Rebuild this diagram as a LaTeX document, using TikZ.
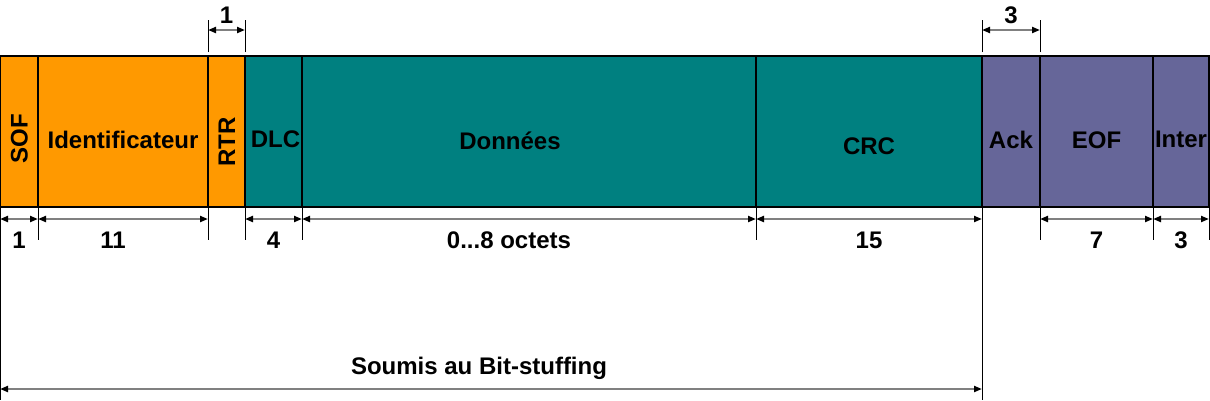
\documentclass[tikz,border=0pt]{standalone}
\usepackage{fontspec}
\setmainfont{Liberation Sans}
\usetikzlibrary{positioning,arrows.meta}
\definecolor{canorange}{HTML}{FF9900}
\definecolor{canteal}{HTML}{008080}
\definecolor{canpurple}{HTML}{666699}
\begin{document}
\begin{tikzpicture}[x=1pt,y=-1pt,font=\bfseries\fontsize{24}{28}\selectfont]
      \tikzstyle{field}=[draw,line width=1.2pt,inner sep=0,outer sep=0,minimum height=151pt]
      \tikzstyle{field label}=[text height=17pt,text depth=0pt]
      \tikzstyle{tick}=[draw,black,line width=1pt]
      \tikzstyle{measure}=[draw=gray,line width=2pt,{Triangle[black,length=8pt,width=6pt]}-{Triangle[black,length=8pt,width=6pt]}]
      \tikzstyle{num}=[text=black,text height=17pt,text depth=0pt]
      \useasboundingbox (0,0) rectangle (1210,400);

      % trame
      \node[field,fill=canorange,minimum width=38pt,label={[field label,yshift=-7.5pt,rotate=90]center:SOF}] (sof) at (19,131.5) {};
      \node[field,fill=canorange,minimum width=170pt,right=0pt of sof,label={[field label,yshift=-8.5pt]center:Identificateur}] (ident) {};
      \node[field,fill=canorange,minimum width=37pt,right=0pt of ident,label={[field label,yshift=-10.5pt,rotate=90]center:RTR}] (rtr) {};
      \node[field,fill=canteal,minimum width=57pt,right=0pt of rtr,label={[field label,xshift=2pt,yshift=-7pt]center:DLC}] (dlc) {};
      \node[field,fill=canteal,minimum width=454pt,right=0pt of dlc,label={[field label,xshift=-19pt,yshift=-9pt]center:Données}] (data) {};
      \node[field,fill=canteal,minimum width=226pt,right=0pt of data,label={[field label,yshift=-14pt]center:CRC}] (crc) {};
      \node[field,fill=canpurple,minimum width=58pt,right=0pt of crc,label={[field label,yshift=-8.5pt]center:Ack}] (ack) {};
      \node[field,fill=canpurple,minimum width=113pt,right=0pt of ack,label={[field label,yshift=-8.5pt]center:EOF}] (eof) {};
      \node[field,fill=canpurple,minimum width=56pt,right=0pt of eof,label={[field label,yshift=-7pt]center:Inter}] (inter) {};

      % cotes du haut
      \draw[tick] ([yshift=4pt]rtr.north west) -- ++(0,-32);
      \draw[tick] ([yshift=4pt]rtr.north east) -- ++(0,-32);
      \draw[measure] ([yshift=26pt]rtr.north west) -- ([yshift=26pt]rtr.north east) node[midway,above=2pt,num]{1};
      \draw[tick] ([yshift=4pt]ack.north west) -- ++(0,-32);
      \draw[tick] ([yshift=4pt]ack.north east) -- ++(0,-32);
      \draw[measure] ([yshift=26pt]ack.north west) -- ([yshift=26pt]ack.north east) node[midway,above=2pt,num]{3};

      % cotes du bas
      \draw[tick] (sof.south west) -- ++(0,193);
      \draw[tick] (sof.south east) -- ++(0,33);
      \draw[tick] (ident.south east) -- ++(0,33);
      \draw[tick] (rtr.south east) -- ++(0,33);
      \draw[tick] (dlc.south east) -- ++(0,33);
      \draw[tick] (data.south east) -- ++(0,33);
      \draw[tick] (crc.south east) -- ++(0,193);
      \draw[tick] (ack.south east) -- ++(0,33);
      \draw[tick] (eof.south east) -- ++(0,33);
      \draw[tick] (inter.south east) -- ++(0,33);
      \draw[measure] ([yshift=-12pt]sof.south west) -- ([yshift=-12pt]sof.south east) node[midway,below=8pt,num]{1};
      \draw[measure] ([yshift=-12pt]ident.south west) -- ([yshift=-12pt]ident.south east) node[midway,below=8pt,num,xshift=-10pt]{11};
      \draw[measure] ([yshift=-12pt]dlc.south west) -- ([yshift=-12pt]dlc.south east) node[midway,below=8pt,num]{4};
      \draw[measure] ([yshift=-12pt]data.south west) -- ([yshift=-12pt]data.south east) node[midway,below=8pt,num,xshift=-20pt]{0...8 octets};
      \draw[measure] ([yshift=-12pt]crc.south west) -- ([yshift=-12pt]crc.south east) node[midway,below=8pt,num]{15};
      \draw[measure] ([yshift=-12pt]eof.south west) -- ([yshift=-12pt]eof.south east) node[midway,below=8pt,num]{7};
      \draw[measure] ([yshift=-12pt]inter.south west) -- ([yshift=-12pt]inter.south east) node[midway,below=8pt,num]{3};
      \draw[measure] ([yshift=-182pt]sof.south west) -- ([yshift=-182pt]crc.south east) node[midway,above=5.5pt,num,text depth=5pt,xshift=-12pt]{Soumis au Bit-stuffing};
\end{tikzpicture}
\end{document}
